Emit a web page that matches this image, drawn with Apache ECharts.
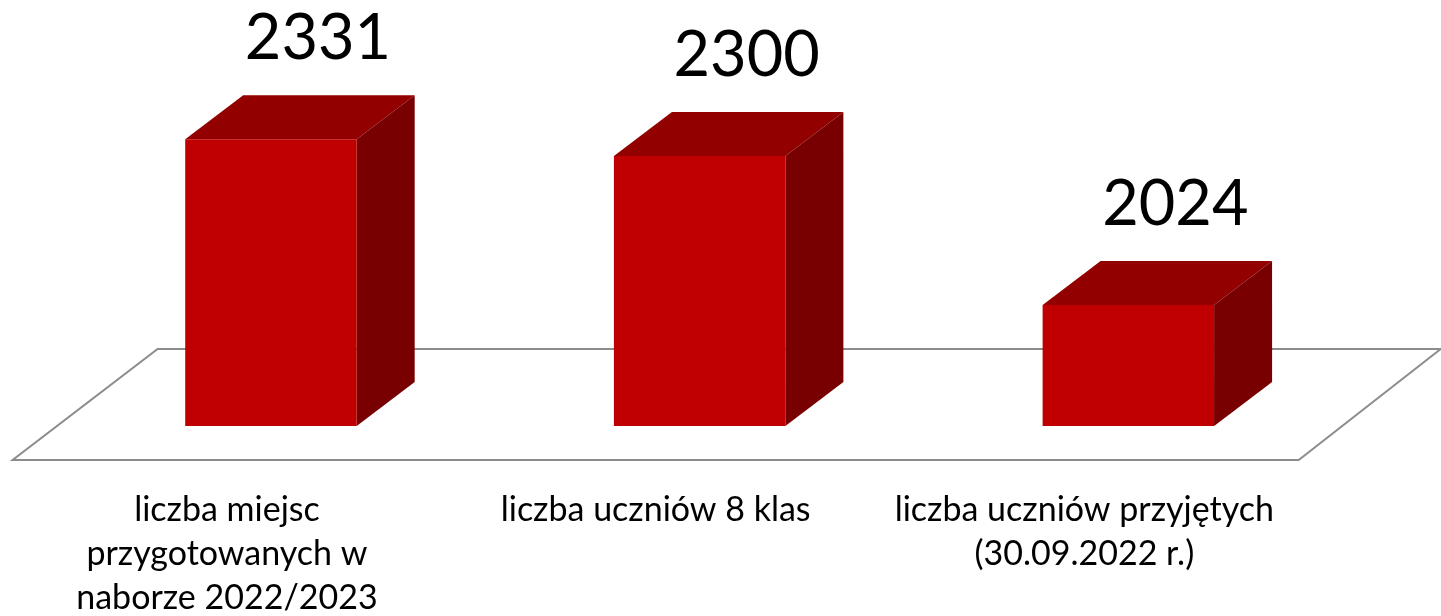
<!DOCTYPE html>
<html>
<head>
<meta charset="utf-8">
<script src="https://cdn.jsdelivr.net/npm/echarts@6/dist/echarts.min.js"></script>
<style>
  html, body { margin: 0; padding: 0; background: #fff; }
  #chart { width: 1441px; height: 616px; }
</style>
</head>
<body>
<div id="chart"></div>
<script>
// dane
const categories = [
  'liczba miejsc\nprzygotowanych w\nnaborze 2022/2023',
  'liczba uczniów 8 klas',
  'liczba uczniów przyjętych\n(30.09.2022 r.)'
]
const values = [2331, 2300, 2024]
const axisMin = 1800
const axisMax = 2400

// glebokosc slupka (rzut 3D)
const depthX = 58
const depthY = -44

const chart = echarts.init(document.getElementById('chart'))

const renderFloor = function (params, api) {
  const cs = params.coordSys
  const x0 = cs.x, x1 = cs.x + cs.width, yb = cs.y + cs.height
  return {
    type: 'polygon',
    shape: {
      points: [
        [x0 - 44, yb + 34],
        [x1 - 44, yb + 34],
        [x1 + 98, yb - 77],
        [x0 + 101, yb - 77]
      ]
    },
    style: { fill: '#fff', stroke: '#8c8c8c', lineWidth: 2 },
    silent: true
  }
}

const renderBar = function (params, api) {
  const cat = api.value(0)
  const val = api.value(1)
  const top = api.coord([cat, val])
  const base = api.coord([cat, axisMin])
  const w = api.size([1, 0])[0] * 0.4
  const x = top[0] - w / 2
  const y = top[1]
  const h = base[1] - top[1]
  return {
    type: 'group',
    children: [
      {
        type: 'polygon',
        shape: { points: [[x, y], [x + w, y], [x + w + depthX, y + depthY], [x + depthX, y + depthY]] },
        style: { fill: '#930000' }
      },
      {
        type: 'polygon',
        shape: { points: [[x + w, y], [x + w + depthX, y + depthY], [x + w + depthX, y + h + depthY], [x + w, y + h]] },
        style: { fill: '#780000' }
      },
      {
        type: 'rect',
        shape: { x: x, y: y, width: w, height: h },
        style: { fill: '#C00000' }
      },
      {
        type: 'text',
        x: top[0] + 47,
        y: y - 69,
        style: {
          text: String(val),
          fontFamily: 'Lato',
          fontSize: 63,
          fill: '#000',
          align: 'center',
          verticalAlign: 'bottom'
        }
      }
    ]
  }
}

chart.setOption({
  animation: false,
  grid: { left: 56.6, right: 98.3, top: 102, bottom: 190, outerBoundsMode: 'none', containLabel: false },
  xAxis: {
    type: 'category',
    data: categories,
    axisLine: { show: false },
    axisTick: { show: false },
    splitLine: { show: false },
    axisLabel: {
      interval: 0,
      margin: 62,
      color: '#000',
      fontFamily: 'Lato',
      fontSize: 34,
      lineHeight: 44,
      align: 'center',
      padding: [0, 88, 0, 0]
    }
  },
  yAxis: {
    type: 'value',
    min: axisMin,
    max: axisMax,
    show: false
  },
  series: [
    {
      type: 'custom',
      renderItem: renderFloor,
      data: [[0, axisMin]],
      z: 1
    },
    {
      type: 'custom',
      renderItem: renderBar,
      data: values.map(function (v, i) { return [i, v] }),
      z: 2
    }
  ]
})
</script>
</body>
</html>
